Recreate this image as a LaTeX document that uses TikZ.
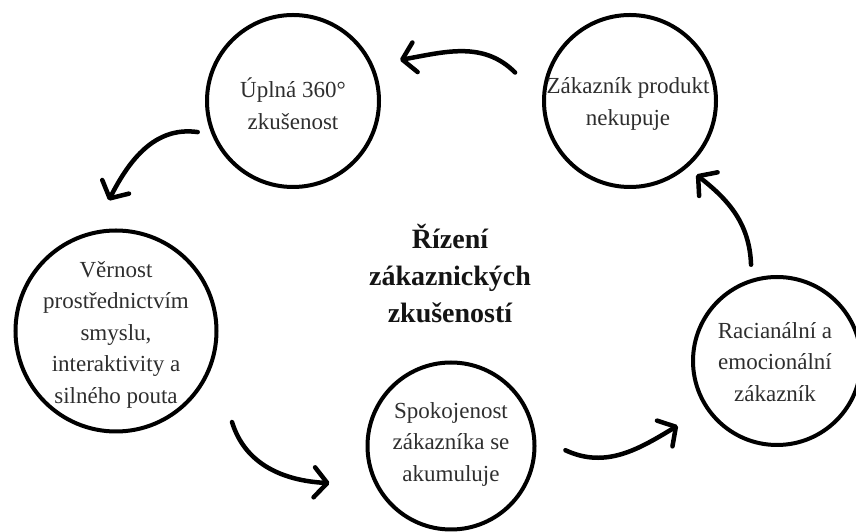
\documentclass[tikz,border=0pt]{standalone}
\usepackage{fontspec}
\setmainfont{Liberation Serif}
\usetikzlibrary{arrows.meta}
\begin{document}
\begin{tikzpicture}[x=1pt,y=1pt,
  ring/.style={circle, draw=black, line width=4pt, minimum size=#1, inner sep=0pt},
  txt/.style={font=\fontsize{23}{31.5}\selectfont, text=black!82, align=center, inner sep=0pt},
  title/.style={font=\bfseries\fontsize{28}{37}\selectfont, text=black!92, align=center, inner sep=0pt},
  arr/.style={line width=4.5pt, line cap=round,
    -{Straight Barb[length=13pt,width=30pt,line cap=round,line join=round]}}
]
\useasboundingbox (0,0) rectangle (856,532);
% circles
\node[ring=172pt] (c1) at (293,431) {};
\node[ring=172pt] (c2) at (630,431) {};
\node[ring=201pt] (c3) at (116,201) {};
\node[ring=167pt] (c4) at (451,86) {};
\node[ring=168pt] (c5) at (777,171) {};
% texts
\node[txt] (t1) at (293,428.5) {Úplná 360°\\zkušenost};
\node[txt] (t2) at (628,428) {Zákazník produkt\\nekupuje};
\node[txt] (t3) at (116,197.5) {Věrnost\\prostřednictvím\\smyslu,\\interaktivity a\\silného pouta};
\node[txt] (t4) at (451,88) {Spokojenost\\zákazníka se\\akumuluje};
\node[txt] (t5) at (775,170) {Racianální a\\emocionální\\zákazník};
\node[title] (tt) at (450,258) {Řízení\\zákaznických\\zkušeností};
% arrows
\draw[arr] ([shift={(166.3:30.4)}]c2.166.3) to[out=135,in=10] ([shift={(21:26.6)}]c1.21);
\draw[arr] ([shift={(198.6:12.2)}]c1.198.6) to[out=172,in=63] ([shift={(93.9:28.3)}]c3.93.9);
\draw[arr] ([shift={(-38.4:45)}]c3.-38.4) to[out=-73,in=177] ([shift={(197:41.5)}]c4.197);
\draw[arr] ([shift={(-2.5:29)}]c4.-2.5) to[out=-25,in=211] ([shift={(213.3:32.4)}]c5.213.3);
\draw[arr] ([shift={(105.7:13.7)}]c5.105.7) to[out=92,in=-38] ([shift={(-48.3:11.2)}]c2.-48.3);
\end{tikzpicture}
\end{document}
